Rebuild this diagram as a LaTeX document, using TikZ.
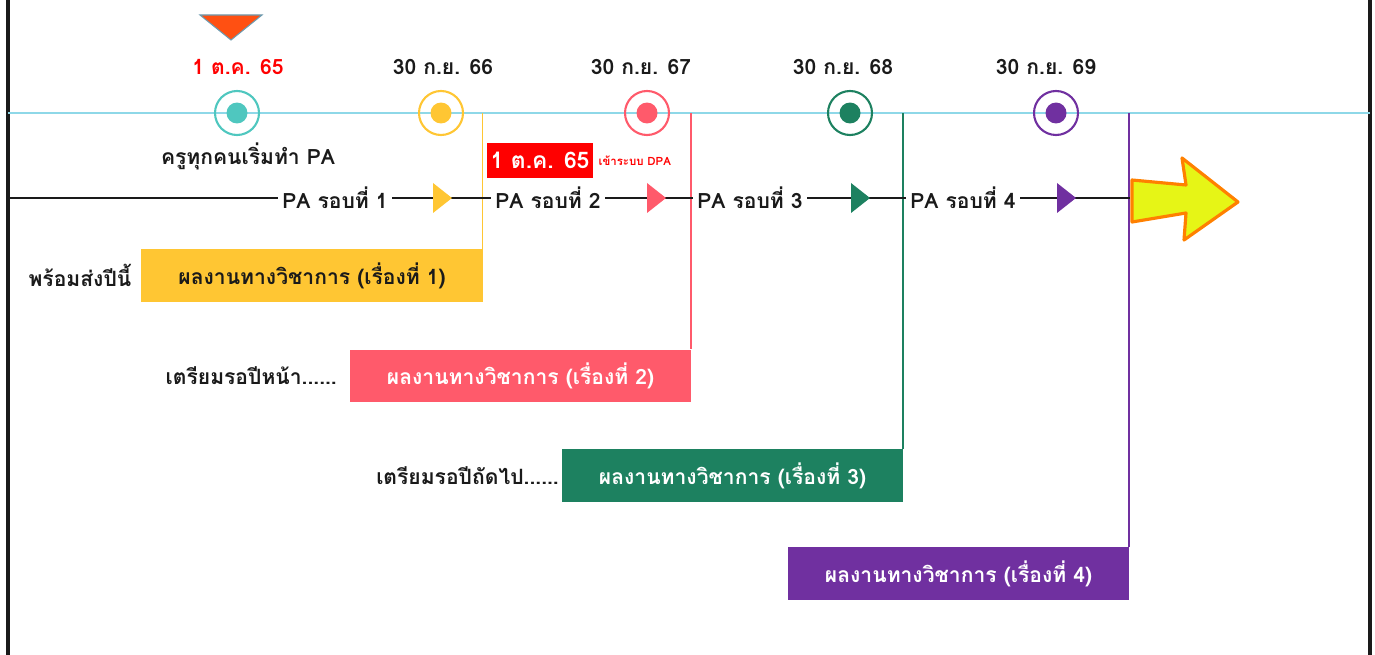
\documentclass[tikz,border=0pt]{standalone}
\usepackage{fontspec}
\newfontfamily\thaifont[Script=Thai]{Loma}
\usetikzlibrary{positioning}
\definecolor{tlInk}{HTML}{1A1A1A}
\definecolor{tlCyan}{HTML}{8ED8E8}
\definecolor{tlRed}{HTML}{FF0000}
\definecolor{mkTeal}{HTML}{4FC7BF}
\definecolor{mkYellow}{HTML}{FFC633}
\definecolor{mkPink}{HTML}{FF5A6B}
\definecolor{mkGreen}{HTML}{1D8160}
\definecolor{mkPurple}{HTML}{7030A0}
\definecolor{flagFill}{HTML}{FF5012}
\definecolor{flagEdge}{HTML}{6C9BB0}
\definecolor{arrFill}{HTML}{E6F516}
\definecolor{arrEdge}{HTML}{FF8000}
\tikzset{
  datelbl/.style={font=\thaifont\bfseries\fontsize{12}{14}\selectfont,text=tlInk},
  ring/.style={circle,draw,line width=1.2pt,minimum size=0.88cm,inner sep=0pt},
  dot/.style={circle,minimum size=0.42cm,inner sep=0pt},
  palbl/.style={font=\thaifont\bfseries\fontsize{12}{14}\selectfont,text=tlInk,inner sep=2.5pt},
  workbox/.style={rectangle,minimum width=6.84cm,minimum height=1.06cm,inner sep=0pt,
    font=\thaifont\bfseries\fontsize{12}{14}\selectfont,text=white},
  sidelbl/.style={font=\thaifont\bfseries\fontsize{12}{14}\selectfont,text=tlInk,inner sep=0pt},
  redtag/.style={rectangle,fill=tlRed,minimum width=2.12cm,minimum height=0.7cm,inner sep=0pt,
    font=\thaifont\bfseries\fontsize{13}{15}\selectfont,text=white},
  tlline/.style={tlCyan,line width=1.7pt},
  paline/.style={tlInk,line width=1.4pt},
  vline/.style={line width=1pt},
  frame/.style={tlInk,line width=2pt},
}
\begin{document}
\begin{tikzpicture}[x=0.02cm,y=-0.02cm]
  \useasboundingbox (0,0) rectangle (1375,655);

  % frame and timeline
  \draw[frame] (8,0) -- (8,655);
  \draw[frame] (1370,0) -- (1370,655);
  \coordinate (tlL) at (8,113);
  \coordinate (tlR) at (1370,113);
  \draw[tlline] (tlL) -- (tlR);

  % start flag
  \filldraw[fill=flagFill,draw=flagEdge,line width=0.6pt] (200,15) -- (262,15) -- (231,40) -- cycle;

  % dates
  \node[datelbl,text=tlRed] (d1) at (238,67) {1 ต.ค. 65};
  \foreach \x/\yr [count=\i from 2] in {443/66,641/67,843/68,1046/69}
    \node[datelbl] (d\i) at (\x,67) {30 ก.ย. \yr};

  % milestones
  \foreach \x/\c [count=\i] in {237/mkTeal,441/mkYellow,647/mkPink,850/mkGreen,1056/mkPurple} {
    \node[ring,draw=\c] (m\i) at (\x,113) {};
    \node[dot,fill=\c] at (m\i) {};
  }
  \node[palbl] (start) at (248,156) {ครูทุกคนเริ่มทำ PA};

  % academic works
  \node[workbox,fill=mkYellow,text=tlInk] (w1) at (312,275.5) {ผลงานทางวิชาการ (เรื่องที่ 1)};
  \node[workbox,fill=mkPink] (w2) at (520.5,376) {ผลงานทางวิชาการ (เรื่องที่ 2)};
  \node[workbox,fill=mkGreen] (w3) at (732.5,475.5) {ผลงานทางวิชาการ (เรื่องที่ 3)};
  \node[workbox,fill=mkPurple] (w4) at (958.5,573.5) {ผลงานทางวิชาการ (เรื่องที่ 4)};

  \node[sidelbl,left=0.18cm of w1] (s1) {พร้อมส่งปีนี้};
  \node[sidelbl,left=0.24cm of w2] (s2) {เตรียมรอปีหน้า......};
  \node[sidelbl,left=0.04cm of w3] (s3) {เตรียมรอปีถัดไป......};

  \foreach \w/\c in {w1/mkYellow,w2/mkPink,w3/mkGreen,w4/mkPurple}
    \draw[vline,\c] ([xshift=-0.5pt]\w.north east |- tlL) -- ([xshift=-0.5pt]\w.north east);

  % DPA tag
  \node[redtag] (dpa) at (540,160.5) {1 ต.ค. 65};
  \node[font=\thaifont\bfseries\fontsize{6.5}{8}\selectfont,text=tlRed,right=0.1cm of dpa,inner sep=0pt] (dpatxt) {เข้าระบบ DPA};

  % PA rounds
  \coordinate (paL) at (8,198);
  \coordinate (paR) at (1130,198);
  \node[palbl] (p1) at (335,198) {PA รอบที่ 1};
  \node[palbl] (p2) at (548,198) {PA รอบที่ 2};
  \node[palbl] (p3) at (750,198) {PA รอบที่ 3};
  \node[palbl] (p4) at (963,198) {PA รอบที่ 4};
  \draw[paline] (paL) -- (p1) -- (p2) -- (p3) -- (p4) -- (paR);
  \foreach \x/\c in {433/mkYellow,647/mkPink,851/mkGreen,1057/mkPurple}
    \fill[\c] (\x,183) -- (\x+19,198) -- (\x,213) -- cycle;

  % onward arrow
  \filldraw[fill=arrFill,draw=arrEdge,line width=1.8pt,line join=round]
    (1132,180) -- (1186,185) -- (1182,158) -- (1238,202) -- (1184,240)
    -- (1186,213) -- (1132,222) -- cycle;
\end{tikzpicture}
\end{document}
